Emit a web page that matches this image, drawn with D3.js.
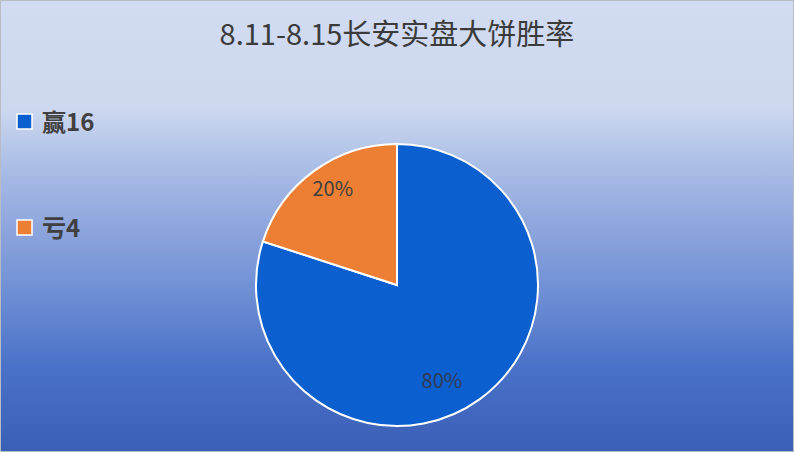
<!DOCTYPE html>
<html>
<head>
<meta charset="utf-8">
<script src="https://cdn.jsdelivr.net/npm/d3@7"></script>
<style>
  html, body { margin: 0; padding: 0; background: #fff; }
  svg { display: block; font-family: "Noto Sans CJK SC", "Noto Sans", sans-serif; }
</style>
</head>
<body>
<svg width="794" height="452"></svg>
<script>
// chart data
var title = "8.11-8.15长安实盘大饼胜率";
var categories = ["赢", "亏"];
var counts = [16, 4];
var colors = ["#0b5fcf", "#ec7f33"];

var svg = d3.select("svg"),
    width = +svg.attr("width"),
    height = +svg.attr("height");

// background gradient (light on top, darker blue at the bottom)
var defs = svg.append("defs");
var grad = defs.append("linearGradient")
    .attr("id", "bg")
    .attr("x1", 0).attr("y1", 0)
    .attr("x2", 0).attr("y2", 1);
[["0%", "#d1dbf1"], ["24%", "#cdd8ef"], ["37%", "#aabde6"], ["52%", "#8aa3dc"],
 ["67%", "#6a8bd3"], ["81%", "#4a72c8"], ["100%", "#3a5fb6"]].forEach(function (s) {
    grad.append("stop").attr("offset", s[0]).attr("stop-color", s[1]);
});

svg.append("rect")
    .attr("x", 0.5).attr("y", 0.5)
    .attr("width", width - 1).attr("height", height - 1)
    .attr("fill", "url(#bg)")
    .attr("stroke", "#b9bcc2")
    .attr("stroke-width", 1);

// title
svg.append("text")
    .attr("x", 397)
    .attr("y", 45)
    .attr("text-anchor", "middle")
    .attr("font-size", 29)
    .attr("fill", "#3b3b3b")
    .text(title);

// legend
var legend = svg.append("g")
    .selectAll("g")
    .data(categories)
    .enter().append("g")
    .attr("transform", function (d, i) {
        return "translate(17," + (114 + i * 106) + ")";
    });

legend.append("rect")
    .attr("width", 15)
    .attr("height", 15)
    .attr("fill", function (d, i) { return colors[i]; })
    .attr("stroke", "#fff")
    .attr("stroke-width", 1.5);

legend.append("text")
    .attr("x", 25)
    .attr("y", 17)
    .attr("font-size", 24)
    .attr("font-weight", "bold")
    .attr("fill", "#404040")
    .text(function (d, i) { return d + counts[i]; });

// the pie
var radius = 141;
var g = svg.append("g").attr("transform", "translate(397,285)");

var pie = d3.pie().sort(null).value(function (d) { return d; });
var arcs = pie(counts);
var total = d3.sum(counts);

var arc = d3.arc().innerRadius(0).outerRadius(radius);

g.selectAll("path")
    .data(arcs)
    .enter().append("path")
    .attr("d", arc)
    .attr("fill", function (d, i) { return colors[i]; })
    .attr("stroke", "#fff")
    .attr("stroke-width", 2);

// percentage labels, placed roughly where excel's best fit puts them
var labelRadius = [0.75, 0.82];
var labelTurn = [0.19, 0.04]; // radians, nudges along the arc
g.selectAll(".lbl")
    .data(arcs)
    .enter().append("text")
    .attr("class", "lbl")
    .attr("transform", function (d, i) {
        var r = radius * labelRadius[i];
        var a = (d.startAngle + d.endAngle) / 2 + labelTurn[i];
        return "translate(" + (r * Math.sin(a)) + "," + (-r * Math.cos(a)) + ")";
    })
    .attr("text-anchor", "middle")
    .attr("dy", "0.35em")
    .attr("font-size", 20)
    .attr("fill", function (d, i) { return i === 0 ? "#2f3b55" : "#404040"; })
    .text(function (d) { return Math.round(d.value / total * 100) + "%"; });
</script>
</body>
</html>
